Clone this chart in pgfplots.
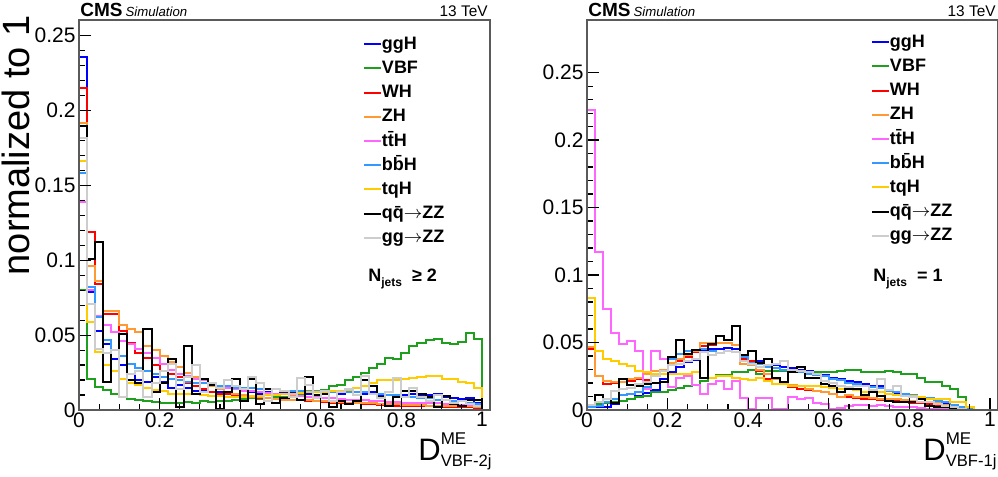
\documentclass[border=0pt]{standalone}
\usepackage{pgfplots}
\pgfplotsset{compat=1.18}
\usepackage{pgfplotstable}
\usepackage{fontspec}
\setmainfont{Liberation Sans}

\definecolor{cggH}{RGB}{0,0,255}
\definecolor{cVBF}{RGB}{30,160,30}
\definecolor{cWH}{RGB}{255,0,0}
\definecolor{cZH}{RGB}{255,153,51}
\definecolor{cttH}{RGB}{255,102,255}
\definecolor{cbbH}{RGB}{51,153,255}
\definecolor{ctqH}{RGB}{255,204,0}
\definecolor{cqq}{RGB}{0,0,0}
\definecolor{cgg}{RGB}{205,205,205}
\definecolor{axgray}{RGB}{90,90,90}

\pgfplotstableread{
x gg vbf wh zh tth bbh tqh qq ggzz
0.00 0 0 0 0 0 0 0 0 0
0.00 0.236 0.080 0.215 0.192 0.139 0.158 0.166 0.190 0.182
0.02 0.079 0.021 0.119 0.096 0.080 0.082 0.059 0.101 0.071
0.04 0.053 0.0155 0.084 0.086 0.063 0.062 0.039 0.112 0.041
0.06 0.044 0.0135 0.064 0.066 0.057 0.047 0.030 0.019 0.038
0.08 0.034 0.011 0.064 0.066 0.052 0.040 0.026 0.040 0.040
0.10 0.030 0.009 0.053 0.057 0.046 0.036 0.021 0.051 0.009
0.12 0.024 0.0075 0.045 0.054 0.044 0.031 0.018 0.020 0.024
0.14 0.020 0.0065 0.038 0.052 0.041 0.028 0.0166 0.018 0.026
0.16 0.019 0.006 0.035 0.043 0.038 0.026 0.0145 0.054 0.009
0.18 0.022 0.0055 0.030 0.040 0.035 0.024 0.0133 0.012 0.018
0.20 0.019 0.005 0.026 0.036 0.031 0.022 0.013 0.018 0.026
0.22 0.015 0.005 0.024 0.032 0.027 0.021 0.011 0.034 0.031
0.24 0.017 0.005 0.022 0.029 0.024 0.020 0.011 0.002 0.014
0.26 0.015 0.0055 0.018 0.025 0.023 0.019 0.0105 0.043 0.022
0.28 0.013 0.005 0.016 0.022 0.021 0.018 0.0105 0.011 0.030
0.30 0.013 0.006 0.014 0.018 0.020 0.018 0.010 0.021 0.012
0.32 0.012 0.0055 0.012 0.016 0.018 0.017 0.0095 0.017 0.018
0.34 0.012 0.006 0.011 0.014 0.016 0.016 0.0095 0.001 0.015
0.36 0.012 0.006 0.011 0.012 0.015 0.016 0.009 0.012 0.020
0.38 0.011 0.0065 0.010 0.011 0.014 0.015 0.009 0.021 0.016
0.40 0.013 0.0075 0.009 0.010 0.013 0.015 0.009 0.006 0.014
0.42 0.012 0.008 0.009 0.009 0.0125 0.015 0.0095 0.021 0.022
0.44 0.011 0.0075 0.008 0.0085 0.012 0.014 0.0095 0.004 0.018
0.46 0.012 0.008 0.008 0.008 0.0115 0.014 0.010 0.014 0.006
0.48 0.011 0.009 0.0075 0.0075 0.011 0.014 0.010 0.005 0.014
0.50 0.012 0.009 0.007 0.007 0.0105 0.013 0.0105 0.008 0.013
0.52 0.012 0.0095 0.007 0.007 0.010 0.013 0.011 0.009 0.009
0.54 0.011 0.010 0.0065 0.0065 0.0095 0.013 0.0115 0.007 0.0215
0.56 0.011 0.012 0.006 0.0065 0.009 0.013 0.012 0.022 0.017
0.58 0.012 0.013 0.006 0.006 0.0085 0.013 0.012 0.010 0.008
0.60 0.013 0.0135 0.0055 0.006 0.008 0.013 0.012 0.011 0.013
0.62 0.012 0.016 0.005 0.0055 0.0078 0.012 0.013 0.002 0.006
0.64 0.011 0.017 0.005 0.0055 0.0075 0.012 0.013 0.006 0.012
0.66 0.012 0.020 0.0045 0.005 0.007 0.012 0.0135 0.004 0.014
0.68 0.012 0.022 0.0045 0.005 0.007 0.012 0.015 0.006 0.010
0.70 0.011 0.025 0.004 0.0045 0.0065 0.012 0.016 0.020 0.0226
0.72 0.012 0.028 0.004 0.0045 0.006 0.011 0.018 0.016 0.011
0.74 0.010 0.031 0.0035 0.004 0.006 0.011 0.020 0.009 0.008
0.76 0.010 0.035 0.0035 0.004 0.0055 0.010 0.020 0.003 0.012
0.78 0.010 0.034 0.003 0.004 0.0055 0.010 0.020 0.009 0.0217
0.80 0.010 0.038 0.003 0.0035 0.005 0.009 0.0205 0.013 0.009
0.82 0.011 0.043 0.003 0.0035 0.005 0.009 0.0215 0.013 0.0144
0.84 0.010 0.045 0.0028 0.0035 0.005 0.008 0.022 0.011 0.009
0.86 0.010 0.0465 0.0025 0.003 0.0045 0.008 0.0225 0.009 0.006
0.88 0.011 0.0474 0.0025 0.003 0.0045 0.007 0.0225 0.002 0.010
0.90 0.009 0.045 0.0022 0.003 0.004 0.007 0.021 0.0095 0.007
0.92 0.008 0.044 0.002 0.0028 0.004 0.006 0.0205 0.004 0.005
0.94 0.0075 0.0455 0.002 0.0025 0.0035 0.006 0.019 0.003 0.006
0.96 0.008 0.0514 0.0018 0.0025 0.0035 0.005 0.018 0.0065 0.004
0.98 0.0045 0.0474 0.0015 0.002 0.003 0.004 0.0145 0.0065 0.003
1.00 0 0 0 0 0 0 0 0 0
}\twojet

\pgfplotstableread{
x gg vbf wh zh tth bbh tqh qq ggzz
0.00 0 0 0 0 0 0 0 0 0
0.00 0.003 0.0037 0.045 0.0464 0.222 0.002 0.0833 0.0037 0.0037
0.02 0.002 0.0044 0.0254 0.0254 0.117 0.0032 0.0439 0.011 0.0057
0.04 0.0025 0.005 0.019 0.0217 0.0745 0.006 0.0377 0.008 0.008
0.06 0.0045 0.0057 0.020 0.0205 0.0574 0.008 0.0365 0.005 0.0143
0.08 0.007 0.007 0.021 0.021 0.0488 0.011 0.034 0.023 0.0155
0.10 0.008 0.008 0.0217 0.023 0.0513 0.0118 0.0328 0.0185 0.016
0.12 0.0105 0.0094 0.023 0.024 0.0435 0.013 0.029 0.0175 0.019
0.14 0.0125 0.0106 0.022 0.0266 0.0158 0.0168 0.028 0.019 0.021
0.16 0.0145 0.013 0.0266 0.029 0.0434 0.026 0.027 0.020 0.025
0.18 0.023 0.0135 0.030 0.030 0.0377 0.0266 0.027 0.021 0.029
0.20 0.028 0.015 0.034 0.0348 0.0168 0.0377 0.0265 0.039 0.033
0.22 0.032 0.016 0.0365 0.0377 0.0234 0.0414 0.0265 0.052 0.034
0.24 0.0355 0.018 0.039 0.0407 0.025 0.0439 0.027 0.0414 0.0365
0.26 0.037 0.0185 0.0427 0.0439 0.0185 0.0446 0.028 0.0446 0.0377
0.28 0.044 0.0217 0.0476 0.0496 0.0118 0.045 0.024 0.0234 0.043
0.30 0.0455 0.024 0.048 0.0496 0.019 0.0439 0.024 0.0488 0.041
0.32 0.045 0.026 0.050 0.050 0.0217 0.0426 0.0254 0.055 0.042
0.34 0.046 0.026 0.050 0.050 0.0155 0.044 0.0254 0.052 0.044
0.36 0.045 0.028 0.048 0.048 0.0217 0.043 0.024 0.062 0.043
0.38 0.041 0.0285 0.0377 0.034 0.0086 0.039 0.023 0.041 0.036
0.40 0.036 0.0295 0.036 0.033 0.001 0.035 0.022 0.044 0.034
0.42 0.036 0.027 0.029 0.030 0.0086 0.034 0.024 0.035 0.032
0.44 0.033 0.029 0.023 0.0266 0.0086 0.032 0.0217 0.0377 0.033
0.46 0.033 0.029 0.019 0.023 0.0005 0.031 0.019 0.024 0.034
0.48 0.0315 0.029 0.019 0.019 0.0005 0.030 0.019 0.021 0.0365
0.50 0.031 0.0285 0.0168 0.0185 0.010 0.029 0.018 0.028 0.030
0.52 0.030 0.028 0.0155 0.018 0.008 0.028 0.018 0.0316 0.029
0.54 0.029 0.0285 0.0145 0.0155 0.009 0.027 0.018 0.0234 0.028
0.56 0.028 0.028 0.014 0.0143 0.0055 0.026 0.018 0.024 0.027
0.58 0.026 0.028 0.013 0.0136 0.0045 0.025 0.017 0.019 0.0217
0.60 0.024 0.028 0.012 0.0118 0.001 0.023 0.0165 0.018 0.020
0.62 0.023 0.029 0.010 0.0094 0.0015 0.022 0.0155 0.013 0.018
0.64 0.0215 0.0298 0.0095 0.011 0.003 0.020 0.0155 0.0155 0.017
0.66 0.021 0.0298 0.009 0.010 0.004 0.019 0.015 0.0155 0.018
0.68 0.019 0.028 0.0085 0.0095 0.0035 0.018 0.0135 0.011 0.018
0.70 0.018 0.028 0.008 0.009 0.003 0.017 0.013 0.013 0.0145
0.72 0.0175 0.028 0.0075 0.0085 0.004 0.016 0.013 0.0106 0.023
0.74 0.0145 0.029 0.007 0.008 0.003 0.014 0.012 0.007 0.015
0.76 0.0125 0.028 0.0065 0.008 0.0025 0.013 0.011 0.0057 0.018
0.78 0.012 0.0266 0.006 0.0075 0.002 0.012 0.0105 0.0057 0.0106
0.80 0.0105 0.0266 0.0055 0.007 0.002 0.011 0.0105 0.0057 0.0094
0.82 0.0095 0.024 0.005 0.006 0.0015 0.010 0.010 0.008 0.0057
0.84 0.008 0.0205 0.0045 0.0057 0.001 0.009 0.008 0.003 0.0057
0.86 0.007 0.0205 0.004 0.005 0.001 0.007 0.008 0.002 0.0045
0.88 0.0045 0.018 0.0035 0.004 0.001 0.006 0.008 0.002 0.003
0.90 0.003 0.0155 0.0025 0.003 0.0005 0.004 0.0057 0.001 0.002
0.92 0.0025 0.0094 0.0015 0.002 0 0.002 0.0057 0.001 0.001
0.94 0.001 0 0.0005 0.001 0 0.001 0.002 0 0
0.96 0 0 0 0 0 0 0 0 0
0.98 0 0 0 0 0 0 0 0 0
1.00 0 0 0 0 0 0 0 0 0
}\onejet

\pgfplotsset{
  histax/.style={
    scale only axis, width=205.5pt, height=195pt,
    xmin=0, xmax=1.02, ymin=0,
    axis on top,
    tick pos=left, tick align=inside,
    major tick length=6pt, minor tick length=3pt,
    xtick={0,0.2,0.4,0.6,0.8,1}, xticklabels={0,0.2,0.4,0.6,0.8,1},
    minor x tick num=3,
    ytick={0,0.05,0.1,0.15,0.2,0.25}, yticklabels={0,0.05,0.1,0.15,0.2,0.25},
    minor y tick num=4,
    ticklabel style={font=\fontsize{10.5}{12}\selectfont},
    xticklabel style={inner sep=1pt},
    yticklabel style={inner sep=1.5pt},
    axis line style={line width=0.8pt, color=axgray},
    every tick/.style={black, line width=0.6pt},
    legend cell align=left,
    legend image code/.code={\draw[#1] (0pt,0pt) -- (8.5pt,0pt);},
    legend style={anchor=north west, draw=none, fill=none,
      font=\bfseries\fontsize{9}{10}\selectfont,
      inner sep=0pt, outer sep=0pt, row sep=3.1pt,
      nodes={inner sep=0pt, text height=7pt, text depth=2pt, xshift=1.5pt}},
  },
  h/.style={const plot mark left, no markers, line width=1pt},
}

\newcommand{\allplots}[1]{%
  \addplot[h, cggH] table[x=x,y=gg] {#1}; \addlegendentry{ggH}
  \addplot[h, cVBF] table[x=x,y=vbf] {#1}; \addlegendentry{VBF}
  \addplot[h, cWH] table[x=x,y=wh] {#1}; \addlegendentry{WH}
  \addplot[h, cZH] table[x=x,y=zh] {#1}; \addlegendentry{ZH}
  \addplot[h, cttH] table[x=x,y=tth] {#1}; \addlegendentry{t\={t}H}
  \addplot[h, cbbH] table[x=x,y=bbh] {#1}; \addlegendentry{b\={b}H}
  \addplot[h, ctqH] table[x=x,y=tqh] {#1}; \addlegendentry{tqH}
  \addplot[h, cqq] table[x=x,y=qq] {#1}; \addlegendentry{q\={q}$\rightarrow$ZZ}
  \addplot[h, cgg] table[x=x,y=ggzz] {#1}; \addlegendentry{gg$\rightarrow$ZZ}
}

\begin{document}
\begin{tikzpicture}
\useasboundingbox (0pt,0pt) rectangle (499pt,238.5pt);

\begin{axis}[histax, at={(39.5pt,33.5pt)}, anchor=south west, ymax=0.2605,
  legend style={at={(0.691,0.961)}}]
  \allplots{\twojet}
\end{axis}

\begin{axis}[histax, at={(293.5pt,33.5pt)}, anchor=south west, ymax=0.289,
  legend style={at={(0.691,0.966)}}]
  \allplots{\onejet}
\end{axis}

% titles
\node[anchor=base west, inner sep=0pt, font=\bfseries\fontsize{9.5}{11}\selectfont] at (40pt,230pt) {CMS\hspace{1.5pt}{\mdseries\itshape\fontsize{6.6}{8}\selectfont Simulation}};
\node[anchor=base east, inner sep=0pt, font=\fontsize{7.7}{9}\selectfont] at (244pt,230pt) {13 TeV};
\node[anchor=base west, inner sep=0pt, font=\bfseries\fontsize{9.5}{11}\selectfont] at (294pt,230pt) {CMS\hspace{1.5pt}{\mdseries\itshape\fontsize{6.6}{8}\selectfont Simulation}};
\node[anchor=base east, inner sep=0pt, font=\fontsize{7.7}{9}\selectfont] at (498pt,230pt) {13 TeV};

% y label
\node[rotate=90, anchor=base east, inner sep=0pt, font=\fontsize{19}{22}\selectfont] at (15pt,231pt) {normalized to 1};

% x labels
\node[anchor=base west, inner sep=0pt, font=\fontsize{15.5}{18}\selectfont] at (209pt,8pt)
  {D\rlap{\raisebox{8pt}{\fontsize{8.5}{10}\selectfont ME}}\raisebox{-3pt}{\fontsize{8.3}{10}\selectfont VBF-2j}};
\node[anchor=base west, inner sep=0pt, font=\fontsize{15.5}{18}\selectfont] at (461.5pt,8pt)
  {D\rlap{\raisebox{8pt}{\fontsize{8.5}{10}\selectfont ME}}\raisebox{-3pt}{\fontsize{8.3}{10}\selectfont VBF-1j}};

% category text
\node[anchor=base west, inner sep=0pt, font=\bfseries\fontsize{9}{10}\selectfont] at (184pt,97.5pt)
  {N\raisebox{-2.5pt}{\fontsize{6}{7}\selectfont jets}\hspace{5pt}≥ 2};
\node[anchor=base west, inner sep=0pt, font=\bfseries\fontsize{9}{10}\selectfont] at (436.5pt,97.5pt)
  {N\raisebox{-2.5pt}{\fontsize{6}{7}\selectfont jets}\hspace{5pt}= 1};
\end{tikzpicture}
\end{document}
